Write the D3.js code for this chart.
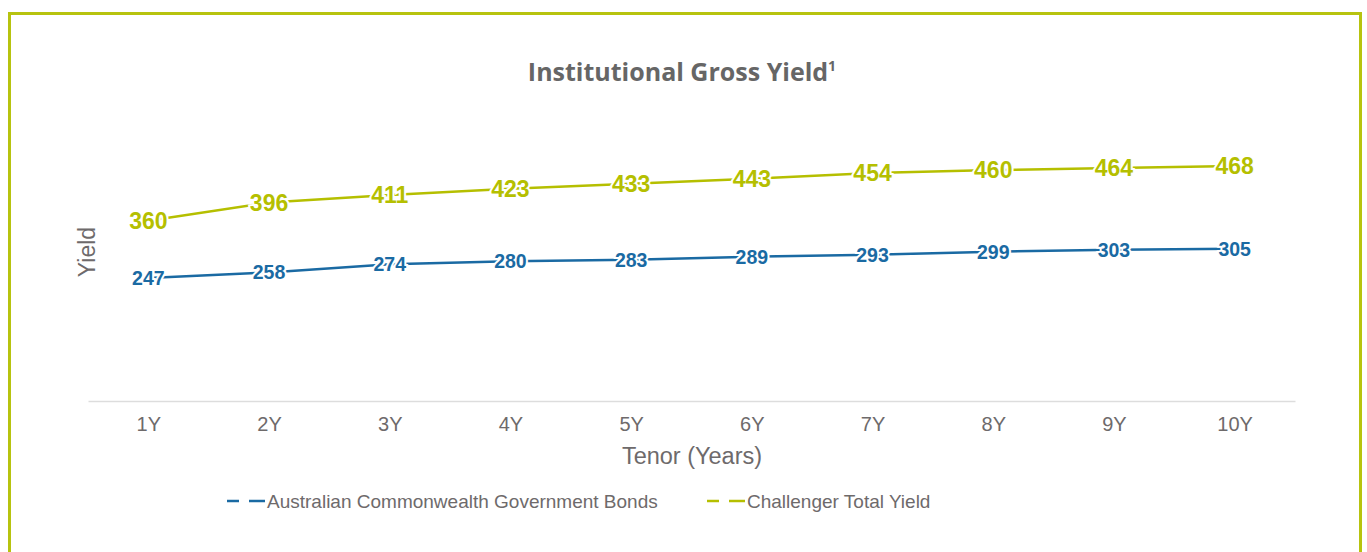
<!DOCTYPE html>
<html>
<head>
<meta charset="utf-8">
<script src="https://cdn.jsdelivr.net/npm/d3@7"></script>
<style>
  html, body { margin: 0; padding: 0; background: #fff; }
  svg { display: block; }
</style>
</head>
<body>
<svg id="chart" width="1367" height="552"></svg>
<script>
const categories = ["1Y","2Y","3Y","4Y","5Y","6Y","7Y","8Y","9Y","10Y"];
const acgbValues = [247,258,274,280,283,289,293,299,303,305];
const challengerValues = [360,396,411,423,433,443,454,460,464,468];
const seriesNames = ["Australian Commonwealth Government Bonds", "Challenger Total Yield"];
const seriesColors = ["#1a6aa3", "#b5bf00"];

const svg = d3.select("#chart");
const FONT = "Liberation Sans, Arial, sans-serif";

// frame
svg.append("rect")
  .attr("x", 9.5).attr("y", 13.5)
  .attr("width", 1351).attr("height", 600)
  .attr("fill", "none").attr("stroke", "#b7c30f").attr("stroke-width", 3);

// title
const title = svg.append("text")
  .attr("x", 682).attr("y", 81)
  .attr("text-anchor", "middle")
  .attr("font-family", "Open Sans, sans-serif")
  .attr("font-weight", "bold")
  .attr("font-size", 25)
  .attr("fill", "#666666");
title.append("tspan").text("Institutional Gross Yield");
title.append("tspan").attr("font-size", 14).attr("dy", -10).text("1");

const x = d3.scalePoint().domain(categories).range([88, 1295]).padding(0.5);
const y = d3.scaleLinear().domain([0, 500]).range([403.2, 149.8]);
const baseY = 401;

// x axis
const xAxis = d3.axisBottom(x).tickSize(0).tickPadding(16);
const gx = svg.append("g").attr("transform", `translate(0,${baseY})`).call(xAxis);
gx.select(".domain").attr("stroke", "#dddddd").attr("stroke-width", 1.5);
gx.selectAll("text")
  .attr("font-family", FONT)
  .attr("font-size", 20)
  .attr("fill", "#6e6a6b");

// axis titles
svg.append("text")
  .attr("x", 692).attr("y", 464)
  .attr("text-anchor", "middle")
  .attr("font-family", FONT)
  .attr("font-size", 23.5)
  .attr("fill", "#6e6a6b")
  .text("Tenor (Years)");

svg.append("text")
  .attr("transform", "translate(95,252) rotate(-90)")
  .attr("text-anchor", "middle")
  .attr("font-family", FONT)
  .attr("font-size", 23)
  .attr("fill", "#6e6a6b")
  .text("Yield");

const series = [
  { name: seriesNames[0], values: acgbValues, color: seriesColors[0], fs: 19.5 },
  { name: seriesNames[1], values: challengerValues, color: seriesColors[1], fs: 23 }
];

const line = d3.line().x((d, i) => x(categories[i])).y(d => y(d));

series.forEach(s => {
  svg.append("path")
    .datum(s.values)
    .attr("d", line)
    .attr("fill", "none")
    .attr("stroke", s.color)
    .attr("stroke-width", 2.5);
});

series.forEach(s => {
  svg.append("g").selectAll("text")
    .data(s.values)
    .join("text")
    .attr("x", (d, i) => x(categories[i]))
    .attr("y", d => y(d))
    .attr("dy", "0.36em")
    .attr("text-anchor", "middle")
    .attr("font-family", FONT)
    .attr("font-weight", "bold")
    .attr("font-size", s.fs)
    .attr("fill", s.color)
    .attr("stroke", "#ffffff")
    .attr("stroke-width", 4)
    .attr("paint-order", "stroke")
    .text(d => d);
});

// legend
const legendItems = [
  { x: 227, color: seriesColors[0], name: seriesNames[0] },
  { x: 707, color: seriesColors[1], name: seriesNames[1] }
];
legendItems.forEach(it => {
  const g = svg.append("g").attr("transform", `translate(${it.x},501)`);
  g.append("line").attr("x1", 0).attr("x2", 12).attr("y1", 0).attr("y2", 0)
    .attr("stroke", it.color).attr("stroke-width", 2.5);
  g.append("line").attr("x1", 22).attr("x2", 38).attr("y1", 0).attr("y2", 0)
    .attr("stroke", it.color).attr("stroke-width", 2.5);
  g.append("text")
    .attr("x", 40).attr("y", 0).attr("dy", "0.35em")
    .attr("font-family", FONT)
    .attr("font-size", 19)
    .attr("fill", "#6e6a6b")
    .text(it.name);
});
</script>
</body>
</html>
